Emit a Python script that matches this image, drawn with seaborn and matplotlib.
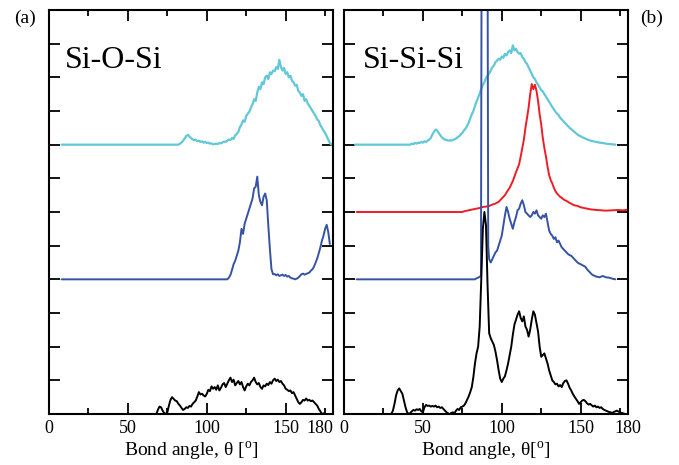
import pandas as pd
import seaborn as sns
from matplotlib import pyplot as plt

sns.set_style('ticks')
plt.rcParams['font.family'] = ['Liberation Serif', 'DejaVu Serif']
plt.rcParams['mathtext.fontset'] = 'custom'
plt.rcParams['mathtext.rm'] = 'Liberation Serif'
for k in ['text.color', 'axes.labelcolor', 'xtick.color', 'ytick.color', 'axes.edgecolor']:
    plt.rcParams[k] = 'black'

# ---- data: bond angle distributions (arbitrary units, before vertical offset) ----
# panel (a) Si-O-Si
a_cyan_theta = [8, 82] + list(range(83, 180))
a_cyan_val = [0.0, 0.0,
              0.03, 0.06, 0.12, 0.18, 0.26, 0.29, 0.24, 0.2, 0.16, 0.13, 0.15, 0.1, 0.12, 0.08, 0.1, 0.06,
              0.08, 0.05, 0.06, 0.03, 0.04, 0.01, 0.02, 0.03, 0.02, 0.05, 0.04, 0.07, 0.09, 0.08, 0.12, 0.15,
              0.14, 0.2, 0.17, 0.28, 0.32, 0.38, 0.52, 0.6, 0.72, 0.68, 0.85, 0.92, 0.98, 1.1, 1.2, 1.35,
              1.3, 1.55, 1.72, 1.65, 1.85, 1.8, 2.0, 2.05, 1.95, 2.15, 2.1, 2.2, 2.18, 2.3, 2.25, 2.52,
              2.3, 2.2, 2.28, 2.1, 2.15, 2.0, 2.05, 1.9, 1.85, 1.75, 1.78, 1.6, 1.55, 1.45, 1.5, 1.3,
              1.35, 1.22, 1.15, 1.08, 1.0, 0.92, 0.85, 0.75, 0.7, 0.58, 0.5, 0.42, 0.35, 0.25, 0.15, 0.05,
              0.0]

a_blue_theta = [8, 113] + list(range(114, 179))
a_blue_val = [0.0, 0.0,
              0.05, 0.13, 0.28, 0.45, 0.55, 0.7, 0.85, 1.1, 1.5, 1.35, 1.65, 1.8, 1.95, 2.1, 2.25, 2.4,
              2.7, 2.75, 3.05, 2.5, 2.3, 2.2, 2.45, 2.55, 2.35, 1.6, 0.9, 0.3, 0.15, 0.16, 0.12, 0.15,
              0.1, 0.12, 0.14, 0.1, 0.13, 0.08, 0.1, 0.05, 0.03, 0.02, 0.0, 0.02, 0.05, 0.1, 0.15, 0.17,
              0.14, 0.16, 0.18, 0.2, 0.26, 0.3, 0.38, 0.5, 0.62, 0.78, 0.95, 1.15, 1.3, 1.5, 1.62, 1.4,
              1.05]

a_black_theta = list(range(68, 176)) + [178]
a_black_val = [0.0, 0.12, 0.22, 0.2, 0.1, 0.03, 0.0, 0.05, 0.25, 0.42, 0.5, 0.45, 0.4, 0.38, 0.3, 0.25,
               0.18, 0.12, 0.15, 0.2, 0.18, 0.24, 0.22, 0.3, 0.35, 0.4, 0.52, 0.65, 0.58, 0.6, 0.55, 0.52,
               0.6, 0.72, 0.68, 0.82, 0.75, 0.8, 0.72, 0.85, 0.7, 0.78, 0.88, 0.92, 0.8, 0.9, 1.0, 1.08,
               0.95, 1.02, 0.85, 0.92, 0.98, 0.88, 0.95, 0.8, 0.7, 0.82, 0.9, 0.85, 0.95, 1.0, 1.08, 0.95,
               0.88, 0.92, 0.8, 0.75, 0.85, 0.82, 0.9, 0.86, 0.95, 0.9, 1.0, 1.05, 0.98, 1.02, 0.95, 0.98,
               0.9, 0.85, 0.75, 0.72, 0.68, 0.7, 0.62, 0.65, 0.55, 0.45, 0.35, 0.3, 0.35, 0.42, 0.4, 0.46,
               0.4, 0.42, 0.38, 0.4, 0.35, 0.3, 0.25, 0.15, 0.08, 0.0, 0.02, 0.0,
               0.0]

# panel (b) Si-Si-Si
b_cyan_theta = [7, 42] + list(range(43, 161)) + [162, 164, 166, 168, 170, 172]
b_cyan_val = [0.0, 0.0,
              0.03, 0.02, 0.05, 0.03, 0.06, 0.05, 0.08, 0.06, 0.1, 0.08, 0.12, 0.15, 0.2, 0.3, 0.38, 0.45,
              0.42, 0.35, 0.28, 0.22, 0.18, 0.15, 0.14, 0.12, 0.13, 0.12, 0.14, 0.16, 0.18, 0.22, 0.25, 0.3,
              0.35, 0.42, 0.48, 0.55, 0.65, 0.78, 0.9, 1.0, 1.15, 1.28, 1.4, 1.52, 1.65, 1.78, 1.85, 1.98,
              2.05, 2.12, 2.2, 2.3, 2.35, 2.45, 2.5, 2.55, 2.52, 2.62, 2.58, 2.7, 2.65, 2.75, 2.8, 2.72,
              2.95, 2.8, 2.85, 2.75, 2.7, 2.72, 2.6, 2.55, 2.45, 2.4, 2.3, 2.2, 2.1, 2.0, 1.95, 1.85,
              1.78, 1.7, 1.62, 1.58, 1.5, 1.43, 1.35, 1.28, 1.2, 1.12, 1.05, 0.98, 0.92, 0.88, 0.8, 0.75,
              0.7, 0.65, 0.6, 0.55, 0.5, 0.46, 0.42, 0.38, 0.34, 0.3, 0.27, 0.25, 0.22, 0.2, 0.18, 0.16,
              0.14, 0.12, 0.11, 0.1, 0.09, 0.08,
              0.06, 0.05, 0.03, 0.02, 0.01, 0.0]

b_red_theta = [8, 75, 76, 78, 80, 82, 84, 86, 88, 90, 92, 94, 96] + list(range(97, 147)) + \
              [148, 150, 152, 154, 156, 158, 160, 163, 166, 170, 174, 177, 180]
b_red_val = [0.0, 0.0, 0.02, 0.04, 0.06, 0.08, 0.1, 0.12, 0.15, 0.16, 0.18, 0.22, 0.25,
             0.28, 0.3, 0.35, 0.4, 0.45, 0.5, 0.58, 0.65, 0.72, 0.82, 0.92, 1.05, 1.18, 1.3, 1.42, 1.65,
             1.9, 2.15, 2.5, 2.8, 3.1, 3.5, 3.8, 3.65, 3.78, 3.6, 3.3, 2.9, 2.6, 2.2, 1.9, 1.65,
             1.35, 1.1, 0.95, 0.85, 0.72, 0.62, 0.55, 0.5, 0.45, 0.42, 0.38, 0.35, 0.33, 0.3, 0.27, 0.25,
             0.22, 0.2,
             0.18, 0.14, 0.12, 0.1, 0.08, 0.07, 0.06, 0.05, 0.04, 0.05, 0.06, 0.05, 0.07]

b_blue_theta = [8, 83, 84, 85, 86.8, 87.2, 91.0, 91.4, 92] + list(range(93, 159)) + \
               [160, 162, 164, 166, 168, 170, 172]
b_blue_val = [0.0, 0.0, 0.03, 0.05, 0.1, 9.5, 9.5, 1.0, 0.6,
              0.5, 0.6, 0.7, 0.8, 0.85, 1.0, 1.15, 1.3, 1.6, 1.9, 2.15, 2.0, 1.8, 1.65, 1.5, 1.7,
              1.85, 2.05, 2.1, 2.25, 2.35, 2.2, 2.0, 1.95, 1.9, 1.85, 1.9, 2.0, 1.95, 2.05, 1.9, 1.85,
              1.8, 1.9, 1.85, 1.95, 1.7, 1.45, 1.35, 1.3, 1.2, 1.25, 1.1, 1.15, 1.05, 0.95, 0.9, 0.85,
              0.8, 0.75, 0.72, 0.7, 0.65, 0.6, 0.55, 0.5, 0.47, 0.45, 0.42, 0.4, 0.37, 0.3, 0.25, 0.2,
              0.15, 0.12,
              0.08, 0.06, 0.1, 0.06, 0.05, 0.02, 0.0]

b_black_theta = list(range(30, 179)) + [180]
b_black_val = [0.0, 0.1, 0.3, 0.55, 0.7, 0.76, 0.68, 0.6, 0.4, 0.2, 0.05, 0.0, 0.03, 0.08, 0.12, 0.1,
               0.14, 0.12, 0.15, 0.08, 0.05, 0.2, 0.27, 0.24, 0.25, 0.22, 0.24, 0.22, 0.25, 0.2, 0.22, 0.18,
               0.2, 0.15, 0.1, 0.05, 0.02, 0.0, 0.03, 0.05, 0.02, 0.1, 0.15, 0.12, 0.2, 0.22, 0.25, 0.32,
               0.42, 0.52, 0.65, 0.8, 1.1, 1.5, 1.8, 2.0, 2.6, 4.0, 5.5, 6.0, 5.6, 3.8, 2.4, 2.25,
               2.15, 2.05, 1.85, 1.6, 1.3, 1.05, 0.95, 1.05, 1.12, 1.3, 1.5, 1.75, 2.0, 2.35, 2.65, 2.8,
               2.95, 3.05, 2.85, 2.75, 2.9, 2.6, 2.5, 2.3, 2.5, 2.8, 3.05, 2.95, 2.7, 2.45, 2.0, 1.7,
               1.75, 1.8, 1.65, 1.5, 1.3, 1.15, 1.0, 0.95, 0.88, 0.9, 0.82, 0.86, 0.8, 0.92, 0.98, 1.0,
               0.9, 0.78, 0.7, 0.6, 0.52, 0.45, 0.38, 0.3, 0.35, 0.4, 0.42, 0.38, 0.32, 0.28, 0.3, 0.26,
               0.22, 0.25, 0.2, 0.22, 0.18, 0.2, 0.15, 0.12, 0.1, 0.08, 0.06, 0.05, 0.03, 0.06, 0.08, 0.1,
               0.07, 0.05, 0.03, 0.02, 0.0,
               0.0]

CYAN = '#62c7d7'
BLUE = '#3552a5'
RED = '#ee1d25'
BLACK = '#000000'

panels = {
    'a': [(a_cyan_theta, a_cyan_val, 8, CYAN, 1.6),
          (a_blue_theta, a_blue_val, 4, BLUE, 1.4),
          (a_black_theta, a_black_val, 0, BLACK, 1.4)],
    'b': [(b_cyan_theta, b_cyan_val, 8, CYAN, 1.6),
          (b_red_theta, b_red_val, 6, RED, 1.4),
          (b_blue_theta, b_blue_val, 4, BLUE, 1.4),
          (b_black_theta, b_black_val, 0, BLACK, 1.4)],
}

fig = plt.figure(figsize=(6.79, 4.65), dpi=100)
ax_a = fig.add_axes([49 / 679, 51 / 465, 284 / 679, 404 / 465])
ax_b = fig.add_axes([344 / 679, 51 / 465, 284 / 679, 404 / 465])

for key, ax in [('a', ax_a), ('b', ax_b)]:
    for theta, val, offset, color, lw in panels[key]:
        df = pd.DataFrame({'theta': theta, 'g': [v + offset for v in val]})
        sns.lineplot(data=df, x='theta', y='g', ax=ax, color=color, lw=lw,
                     estimator=None, sort=False)

    ax.set_xlim(0, 180)
    ax.set_ylim(0, 12)
    ax.set_xticks([0, 50, 100, 150, 180])
    ax.set_xticks([25, 75, 125, 175], minor=True)
    ax.set_yticks(range(0, 13))
    ax.set_yticklabels([])
    ax.tick_params(which='both', direction='in', top=True, right=True, width=1.3, labelsize=13)
    ax.tick_params(which='major', length=8)
    ax.tick_params(which='minor', length=4)
    ax.tick_params(axis='x', pad=4)
    ax.set_ylabel('')
    for sp in ax.spines.values():
        sp.set_linewidth(1.5)

ax_a.set_xlabel(r'Bond angle, θ [$^{\mathrm{o}}$]', fontsize=14, labelpad=2)
ax_b.set_xlabel(r'Bond angle, θ[$^{\mathrm{o}}$]', fontsize=14, labelpad=2)

# 180 label in panel (a) is pulled in from the right edge
ax_a.get_xticklabels()[-1].set_horizontalalignment('right')

ax_a.text(0.057, 0.856, 'Si-O-Si', transform=ax_a.transAxes, fontsize=23, va='baseline')
ax_b.text(0.067, 0.856, 'Si-Si-Si', transform=ax_b.transAxes, fontsize=23, va='baseline')

fig.text(25 / 679, 1 - 18 / 465, '(a)', fontsize=14, ha='center', va='center')
fig.text(652 / 679, 1 - 18 / 465, '(b)', fontsize=14, ha='center', va='center')

plt.savefig('out.png', dpi=100)
